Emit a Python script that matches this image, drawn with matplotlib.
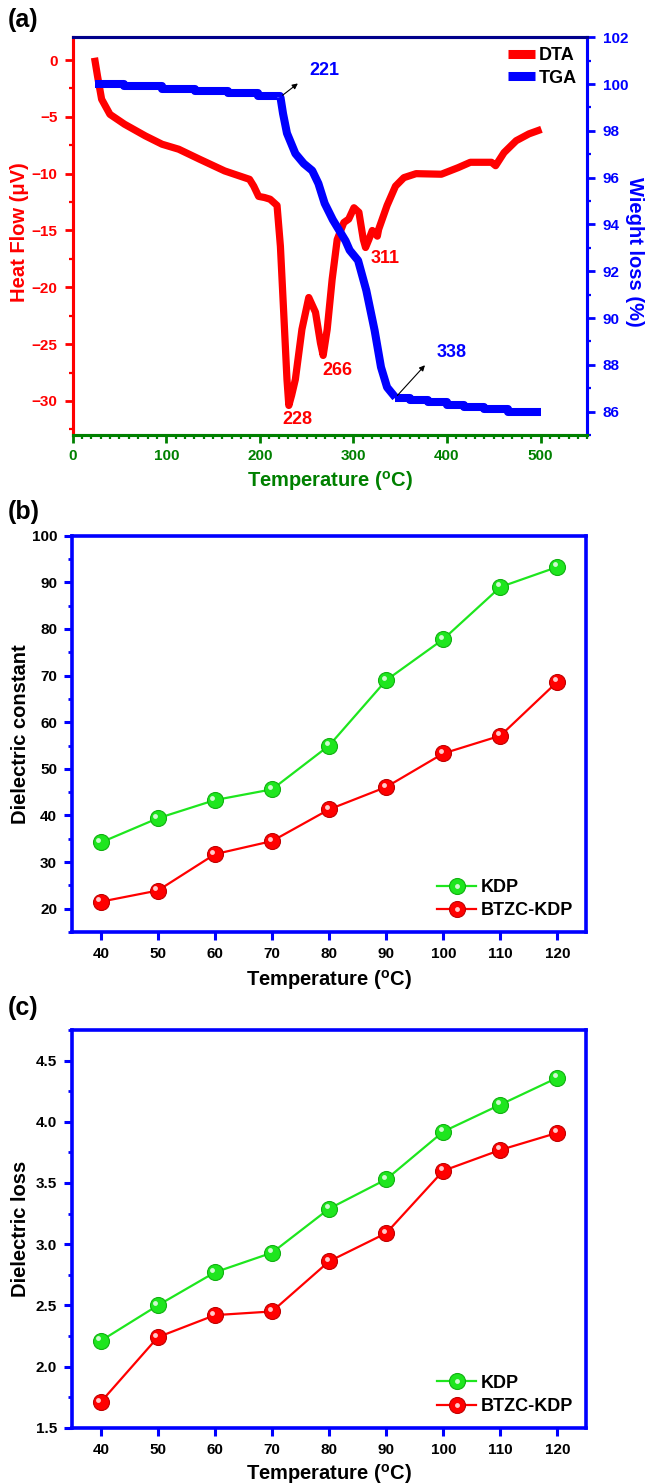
import matplotlib
matplotlib.use("Agg")
import matplotlib.pyplot as plt
from matplotlib.ticker import MultipleLocator
from matplotlib.transforms import ScaledTranslation
from matplotlib.legend_handler import HandlerTuple
from matplotlib import font_manager

# ---------------- data ----------------
# (a) DTA / TGA
dta_temp = [23.3, 26.5, 30.9, 39.8, 55.4, 77.7, 95.5, 113.3, 135.6, 162.4, 189, 193.5, 198.7, 205,
            211, 218.4, 222, 225.5, 229, 231, 234, 238, 245, 252.3, 259.5, 264.8, 267.7, 272, 277.3,
            282.7, 289.8, 295, 300.6, 305.9, 310.6, 313, 316.5, 320.2, 325.6, 327, 336, 345, 354,
            367, 394, 412, 425, 447.6, 452, 461, 474, 487.6, 501]
dta_flow = [0.2, -1.4, -3.45, -4.78, -5.65, -6.68, -7.41, -7.85, -8.73, -9.76, -10.5, -11.1, -12.0,
            -12.1, -12.25, -12.8, -16.4, -22.2, -28.1, -30.4, -29.5, -28.1, -23.7, -20.9, -22.2,
            -24.9, -26.0, -23.7, -19.3, -15.8, -14.3, -14.0, -13.0, -13.4, -15.8, -16.5, -15.8,
            -15.0, -15.5, -14.9, -12.8, -11.1, -10.35, -10.0, -10.05, -9.47, -9.0, -9.0, -9.3,
            -8.15, -7.1, -6.5, -6.1]

tga_temp_flat = [23.3, 55, 95, 131, 166, 198, 222]
tga_wt_flat = [100.0, 99.9, 99.8, 99.7, 99.6, 99.5, 99.45]
tga_temp_drop = [222, 224.8, 229, 238, 247, 256, 262.6, 269.3, 278, 291.6, 296, 305, 313.8,
                 322.7, 329.5, 336, 345]
tga_wt_drop = [99.45, 98.74, 97.9, 97.03, 96.6, 96.3, 95.75, 94.9, 94.2, 93.3, 92.9, 92.46, 91.18,
               89.47, 87.9, 87.04, 86.6]
tga_temp_tail = [345, 360, 380, 400, 418, 440, 465, 501]
tga_wt_tail = [86.6, 86.5, 86.4, 86.3, 86.2, 86.1, 86.0, 86.0]

# (b), (c)
temps = [40, 50, 60, 70, 80, 90, 100, 110, 120]
const_kdp = [34.2, 39.4, 43.3, 45.6, 55.0, 69.0, 77.8, 89.0, 93.3]
const_btzc = [21.5, 23.9, 31.7, 34.5, 41.3, 46.1, 53.3, 57.1, 68.7]
loss_kdp = [2.21, 2.50, 2.77, 2.93, 3.29, 3.53, 3.92, 4.14, 4.36]
loss_btzc = [1.71, 2.24, 2.42, 2.45, 2.86, 3.09, 3.60, 3.77, 3.91]

# ---------------- style ----------------
names = {f.name for f in font_manager.fontManager.ttflist}
MAIN = 'Liberation Sans' if 'Liberation Sans' in names else 'DejaVu Sans'
NARROW = 'Liberation Sans Narrow' if 'Liberation Sans Narrow' in names else MAIN

plt.rcParams['font.family'] = [MAIN, 'DejaVu Sans']
plt.rcParams['font.weight'] = 'bold'
plt.rcParams['mathtext.fontset'] = 'custom'
plt.rcParams['mathtext.rm'] = MAIN + ':bold'
plt.rcParams['mathtext.bf'] = MAIN + ':bold'
plt.rcParams['mathtext.it'] = MAIN + ':bold'

RED = '#FF0000'
BLUE = '#0000FF'
GREEN_AX = '#008000'
LIME = '#1EE61E'
LABEL_FS = 14.5
TAG_FS = 18

fig = plt.figure(figsize=(6.51, 14.83), dpi=100)

W0 = 651.0
H0 = 1483.0


def rect(l, t, r, b):
    return [l / W0, 1 - b / H0, (r - l) / W0, (b - t) / H0]


tick_font = dict(family=[NARROW, MAIN], weight='bold', size=11)

# ---------------- panel (a) ----------------
ax = fig.add_axes(rect(72.7, 37.3, 587.3, 435))
ax2 = ax.twinx()

ax.plot(dta_temp, dta_flow, color=RED, lw=5.2, solid_capstyle='butt', label='DTA')
ax2.plot(tga_temp_flat, tga_wt_flat, color=BLUE, lw=5.8, drawstyle='steps-post', solid_capstyle='butt')
ax2.plot(tga_temp_drop, tga_wt_drop, color=BLUE, lw=5.8, solid_capstyle='butt')
ax2.plot(tga_temp_tail, tga_wt_tail, color=BLUE, lw=5.8, drawstyle='steps-post', solid_capstyle='butt')

ax.set_xlim(0, 550)
ax.set_ylim(-33, 2)
ax2.set_ylim(85, 102)

ax.xaxis.set_major_locator(MultipleLocator(100))
ax.xaxis.set_minor_locator(MultipleLocator(10))
ax.set_xticks([0, 100, 200, 300, 400, 500])
ax.yaxis.set_major_locator(MultipleLocator(5))
ax.yaxis.set_minor_locator(MultipleLocator(2.5))
ax2.yaxis.set_major_locator(MultipleLocator(2))
ax2.yaxis.set_minor_locator(MultipleLocator(1))

for s in ['left', 'right', 'top', 'bottom']:
    ax.spines[s].set_linewidth(2.2)
    ax2.spines[s].set_linewidth(2.2)
ax.spines['left'].set_color(RED)
ax2.spines['left'].set_color(RED)
ax2.spines['right'].set_color(BLUE)
ax.spines['right'].set_color(BLUE)
ax.spines['top'].set_color('#00008B')
ax2.spines['top'].set_color('#00008B')
ax.spines['bottom'].set_color(GREEN_AX)
ax2.spines['bottom'].set_color(GREEN_AX)

ax.tick_params(axis='x', which='major', direction='out', length=6, width=2, color=GREEN_AX,
               labelcolor=GREEN_AX, pad=4)
ax.tick_params(axis='x', which='minor', direction='out', length=3, width=1.6, color=GREEN_AX)
ax.tick_params(axis='y', which='major', direction='out', length=6, width=2, color=RED,
               labelcolor=RED, pad=5)
ax.tick_params(axis='y', which='minor', direction='out', length=3, width=1.6, color=RED)
ax2.tick_params(axis='y', which='major', direction='out', length=6, width=2, color=BLUE,
                labelcolor=BLUE, pad=5)
ax2.tick_params(axis='y', which='minor', direction='out', length=3, width=1.6, color=BLUE)
for lab in ax.get_xticklabels() + ax.get_yticklabels() + ax2.get_yticklabels():
    lab.set_fontproperties(font_manager.FontProperties(**tick_font))

ax.set_xlabel(r'Temperature ($^{\rm o}$C)', color=GREEN_AX, fontsize=LABEL_FS, fontweight='bold')
ax.xaxis.set_label_coords(0.5, -0.085)
ax.set_ylabel('Heat Flow (\u03bcV)', color=RED, fontsize=LABEL_FS, fontweight='bold')
ax.yaxis.set_label_coords(-0.085, 0.51)
ax2.set_ylabel('Wieght loss (%)', color=BLUE, fontsize=LABEL_FS, fontweight='bold',
               rotation=-90, va='bottom', ha='center', rotation_mode='anchor')
ax2.yaxis.set_label_coords(1.073, 0.46)

# annotations
ax.text(240, -31.6, '228', color=RED, fontsize=13, fontweight='bold', ha='center', va='center')
ax.text(282.7, -27.35, '266', color=RED, fontsize=13, fontweight='bold', ha='center', va='center')
ax.text(334, -17.5, '311', color=RED, fontsize=13, fontweight='bold', ha='center', va='center')
ax2.annotate('', xy=(243, 100.1), xytext=(222, 99.45),
             arrowprops=dict(arrowstyle='-|>', color='black', lw=0.8, mutation_scale=8))
ax2.text(269, 100.6, '221', color=BLUE, fontsize=13, fontweight='bold', ha='center', va='center')
ax2.annotate('', xy=(378.5, 88.07), xytext=(345, 86.6),
             arrowprops=dict(arrowstyle='-|>', color='black', lw=0.8, mutation_scale=8))
ax2.text(405, 88.54, '338', color=BLUE, fontsize=13, fontweight='bold', ha='center', va='center')

h_dta = ax.get_lines()[0]
h_tga = ax2.get_lines()[0]
leg = ax2.legend([h_dta, h_tga], ['DTA', 'TGA'], loc='upper right', frameon=False,
                 fontsize=13, handlelength=1.5, handletextpad=0.25, borderaxespad=0.15,
                 labelspacing=0.3)
for t in leg.get_texts():
    t.set_fontweight('bold')
for l in leg.get_lines():
    l.set_linewidth(6.5)
    l.set_drawstyle('default')

fig.text(8 / W0, 1 - 20 / H0, '(a)', fontsize=TAG_FS, fontweight='bold', ha='left', va='center')


# ---------------- panels (b), (c) ----------------
def sphere_plot(axx, x, y, color, edge, label):
    line, = axx.plot(x, y, '-', color=color, lw=1.6, marker='o', ms=11.5,
                     markerfacecolor=color, markeredgecolor=edge, markeredgewidth=0.8,
                     label=label, zorder=3)
    off = ScaledTranslation(-1.8 / 72, 1.8 / 72, fig.dpi_scale_trans)
    hl, = axx.plot(x, y, 'o', ms=3.5, color='white', alpha=0.8, markeredgewidth=0,
                   transform=axx.transData + off, zorder=4)
    return line, hl


def dielectric_panel(box, ykdp, ybtzc, ylim, ymaj, ymin, ylabel, tag, tag_y, yfmt, xlab_y):
    axx = fig.add_axes(rect(*box))
    l1 = sphere_plot(axx, temps, ykdp, LIME, '#10B010', 'KDP')
    l2 = sphere_plot(axx, temps, ybtzc, RED, '#C00000', 'BTZC-KDP')
    axx.set_xlim(35, 125)
    axx.set_ylim(*ylim)
    axx.set_xticks(temps)
    axx.yaxis.set_major_locator(MultipleLocator(ymaj))
    axx.yaxis.set_minor_locator(MultipleLocator(ymin))
    axx.yaxis.set_major_formatter(yfmt)
    for s in axx.spines.values():
        s.set_color(BLUE)
        s.set_linewidth(2.6)
    axx.tick_params(axis='both', which='major', direction='out', length=6, width=2.2,
                    color=BLUE, labelcolor='black', pad=5)
    axx.tick_params(axis='y', which='minor', direction='out', length=3, width=2.0, color=BLUE)
    for lab in axx.get_xticklabels() + axx.get_yticklabels():
        lab.set_fontproperties(font_manager.FontProperties(**tick_font))
    axx.set_xlabel(r'Temperature ($^{\rm o}$C)', fontsize=LABEL_FS, fontweight='bold')
    axx.xaxis.set_label_coords(0.5, xlab_y)
    axx.set_ylabel(ylabel, fontsize=LABEL_FS, fontweight='bold')
    axx.yaxis.set_label_coords(-0.082, 0.5)
    lg = axx.legend([l1, l2], ['KDP', 'BTZC-KDP'], loc='lower right', frameon=False,
                    fontsize=13, handlelength=2.2, handletextpad=0.25, borderaxespad=0.3,
                    labelspacing=0.35, handler_map={tuple: HandlerTuple(ndivide=1)})
    for t in lg.get_texts():
        t.set_fontweight('bold')
    fig.text(8 / W0, 1 - tag_y / H0, tag, fontsize=TAG_FS, fontweight='bold', ha='left', va='center')
    return axx


dielectric_panel((72.3, 535.7, 586, 932), const_kdp, const_btzc, (15, 100), 10, 5,
                 'Dielectric constant', '(b)', 512, '{x:.0f}', -0.09)
dielectric_panel((72.3, 1030, 586, 1427.7), loss_kdp, loss_btzc, (1.5, 4.75), 0.5, 0.25,
                 'Dielectric loss', '(c)', 1008, '{x:.1f}', -0.085)

fig.savefig('out.png', dpi=100)
